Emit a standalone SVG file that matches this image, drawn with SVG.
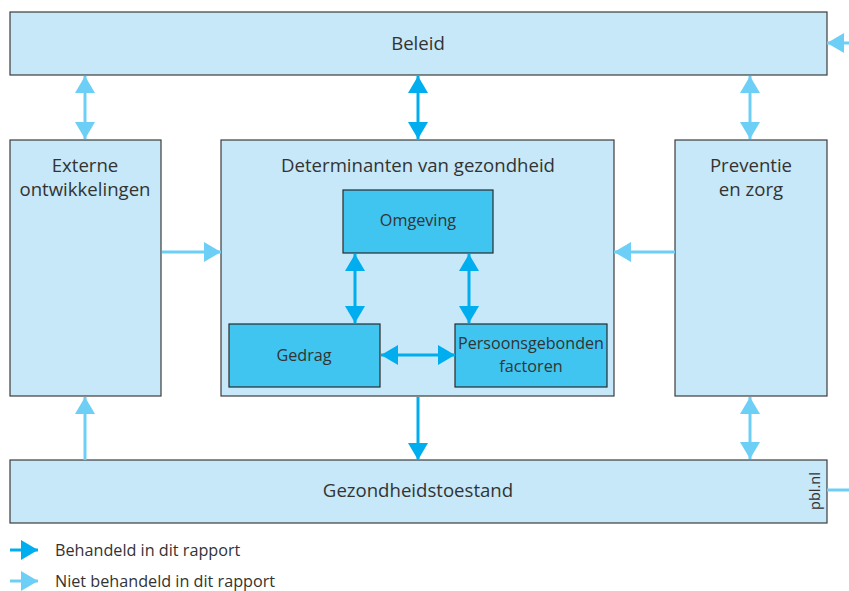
<svg xmlns="http://www.w3.org/2000/svg" width="849" height="591" viewBox="0 0 849 591">
<style>
.box{fill:#c6e8f8;stroke:#3c3c3c;stroke-width:1.2}
.inner{fill:#3fc5f0;stroke:#2a2a2a;stroke-width:1.2}
text{font-family:"Open Sans","Noto Sans",sans-serif;fill:#333;text-anchor:middle}
.big{font-size:18.6px}
.sm{font-size:16.2px}
.lg{font-size:16.2px;text-anchor:start}
.light{stroke:#6dcff6;stroke-width:3;fill:none}
.dark{stroke:#00aeef;stroke-width:3;fill:none}
</style>
<defs>
<marker id="hl" markerUnits="userSpaceOnUse" markerWidth="18" markerHeight="20" refX="17" refY="10" orient="auto-start-reverse" viewBox="0 0 18 20"><path d="M0,0 L17,10 L0,20 Z" fill="#6dcff6"/></marker>
<marker id="hd" markerUnits="userSpaceOnUse" markerWidth="18" markerHeight="20" refX="17" refY="10" orient="auto-start-reverse" viewBox="0 0 18 20"><path d="M0,0 L17,10 L0,20 Z" fill="#00aeef"/></marker>
</defs>
<rect width="849" height="591" fill="#fff"/>
<g id="beleid"><rect class="box" x="10" y="12" width="817" height="63"/><text class="big" x="418" y="50">Beleid</text></g>
<g id="externe"><rect class="box" x="10" y="140" width="151" height="256"/><text class="big" x="85" y="172">Externe</text><text class="big" x="85" y="196">ontwikkelingen</text></g>
<g id="determinanten"><rect class="box" x="221" y="140" width="393" height="256"/><text class="big" x="418" y="172">Determinanten van gezondheid</text></g>
<g id="preventie"><rect class="box" x="675" y="140" width="152" height="256"/><text class="big" x="751" y="172">Preventie</text><text class="big" x="751" y="196">en zorg</text></g>
<g id="gezondheid"><rect class="box" x="10" y="460" width="817" height="63"/><text class="big" x="418" y="497">Gezondheidstoestand</text><text x="0" y="0" transform="translate(820,491) rotate(-90)" style="font-size:14.5px">pbl.nl</text></g>
<g id="omgeving"><rect class="inner" x="343" y="190" width="150" height="63"/><text class="sm" x="418" y="226">Omgeving</text></g>
<g id="gedrag"><rect class="inner" x="229" y="324" width="151" height="63"/><text class="sm" x="304" y="361">Gedrag</text></g>
<g id="persoonsgebonden"><rect class="inner" x="455" y="324" width="152" height="63"/><text class="sm" x="531" y="349" textLength="146" lengthAdjust="spacingAndGlyphs">Persoonsgebonden</text><text class="sm" x="531" y="372">factoren</text></g>
<g id="connectors">
<path class="light" d="M85,76 V139" marker-start="url(#hl)" marker-end="url(#hl)"/>
<path class="dark" d="M418,76 V139" marker-start="url(#hd)" marker-end="url(#hd)"/>
<path class="light" d="M750,76 V139" marker-start="url(#hl)" marker-end="url(#hl)"/>
<path class="light" d="M162,252 H221" marker-end="url(#hl)"/>
<path class="light" d="M675,252 H614" marker-end="url(#hl)"/>
<path class="light" d="M849,43 H827" marker-end="url(#hl)"/>
<path class="light" d="M85,460 V397" marker-end="url(#hl)"/>
<path class="dark" d="M418,397 V460" marker-end="url(#hd)"/>
<path class="light" d="M750,397 V459" marker-start="url(#hl)" marker-end="url(#hl)"/>
<path class="light" d="M827,490 H849"/>
<path class="dark" d="M355,254 V323" marker-start="url(#hd)" marker-end="url(#hd)"/>
<path class="dark" d="M469,254 V323" marker-start="url(#hd)" marker-end="url(#hd)"/>
<path class="dark" d="M381,355 H455" marker-start="url(#hd)" marker-end="url(#hd)"/>
</g>
<g id="legend">
<path class="dark" d="M10,550 H38" marker-end="url(#hd)"/>
<text class="lg" x="55" y="556">Behandeld in dit rapport</text>
<path class="light" d="M10,581 H38" marker-end="url(#hl)"/>
<text class="lg" x="55" y="587">Niet behandeld in dit rapport</text>
</g>
</svg>
